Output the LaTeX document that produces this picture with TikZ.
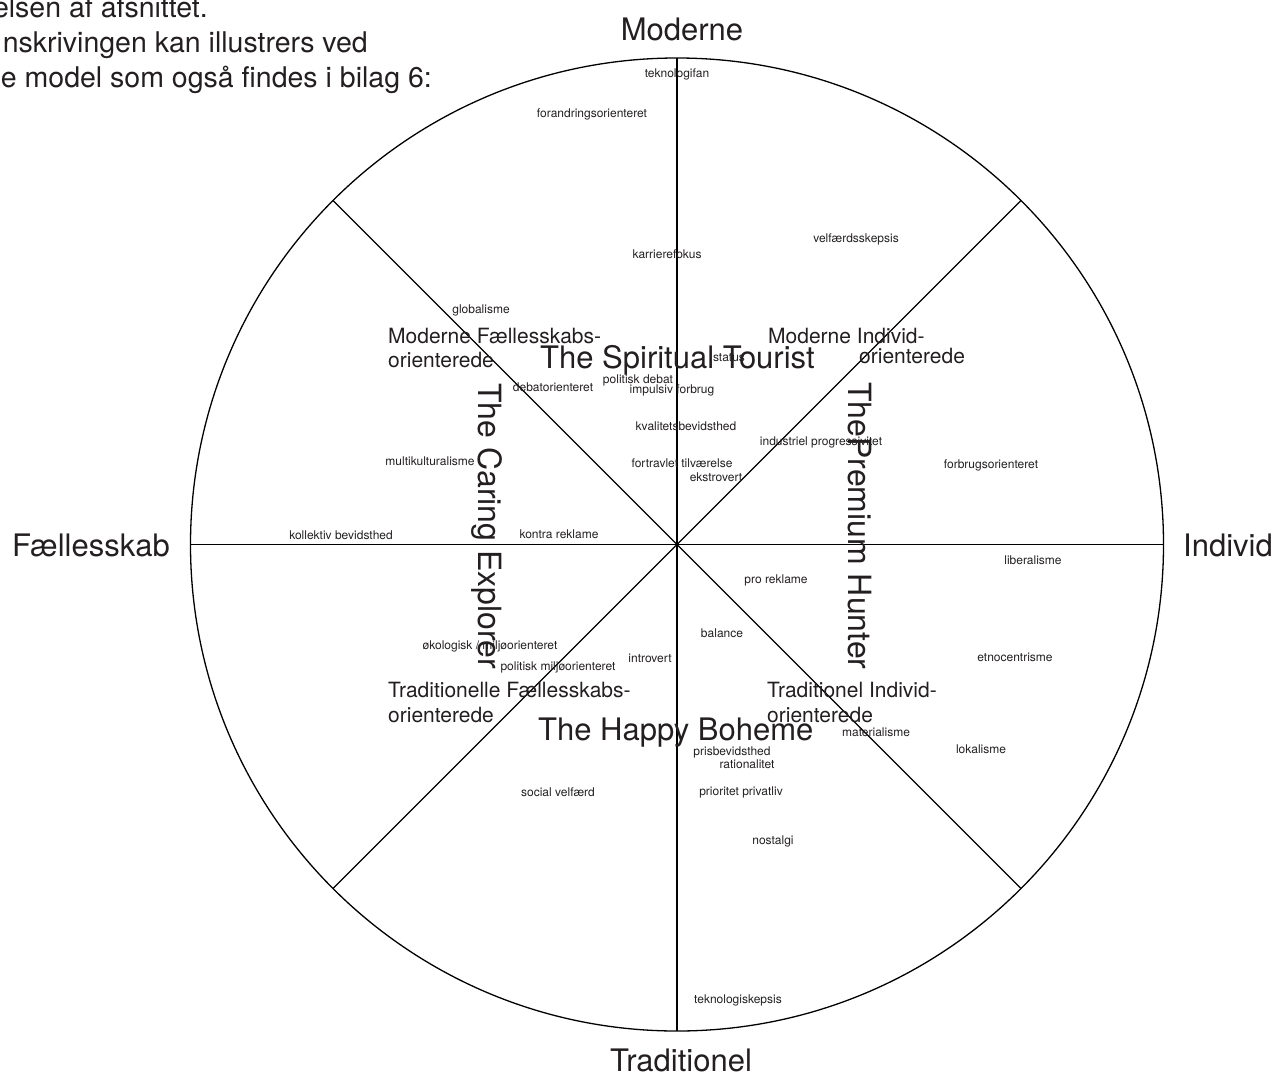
\documentclass[tikz,border=0pt]{standalone}
\usepackage{fontspec}
\setmainfont{TeX Gyre Heros}
\usepackage{tikz}
\usetikzlibrary{calc}
\usetikzlibrary{positioning}
\definecolor{InkGrey}{RGB}{35,31,32}
\newcommand{\wheelRadius}{486.5}
\tikzset{
	axislabel/.style={font=\fontsize{31}{36}\selectfont, text=InkGrey, inner sep=0pt},
	persona/.style={font=\fontsize{31}{36}\selectfont, text=InkGrey, inner sep=0pt, anchor=base west},
	segment/.style={font=\fontsize{21}{24}\selectfont, text=InkGrey, inner sep=0pt, anchor=base west},
	trait/.style={font=\fontsize{12}{14}\selectfont, text=InkGrey, inner sep=0pt},
	intro/.style={font=\fontsize{28.5}{34}\selectfont, text=InkGrey, inner sep=0pt, anchor=base east}
}
\begin{document}
\begin{tikzpicture}[x=1pt, y=-1pt]
	\useasboundingbox (0,0) rectangle (1276,1076);

		\coordinate (c) at (677,544.5);
		\draw [line width=1.3pt] (c) circle [radius=\wheelRadius];
		\foreach \a in {0,45,...,315}
			\coordinate (r\a) at ($(c)+(\a:\wheelRadius)$);

		\draw [line width=1.3pt] (r0) -- (r180);
		\draw [line width=1.3pt] (r90) -- (r270);
		\draw [line width=1.3pt] (r45) -- (r225);
		\draw [line width=1.3pt] (r135) -- (r315);

		% text cut from the page
		\node [intro] (intro1) at (208,17) {elsen af afsnittet.};
		\node [intro] (intro2) at (368,52) {nskrivingen kan illustrers ved};
		\node [intro] (intro3) at (432,87) {e model som også findes i bilag 6:};

		% axes
		\node [axislabel, anchor=base] (moderne) at (682,40) {Moderne};
		\node [axislabel, anchor=base west] (faelles) at (12,556) {Fællesskab};
		\node [axislabel, anchor=base west] (individ) at (1183,556) {Individ};
		\node [axislabel, anchor=base] (tradit) at (681,1071) {Traditionel};

		% segments
		\node [segment] (modFaelA) at (388,343) {Moderne Fællesskabs-};
		\node [segment] (modFaelB) at (388,367) {orienterede};
		\node [segment] (modIndA) at (768,343) {Moderne Individ-};
		\node [segment] (modIndB) at (859,363) {orienterede};
		\node [segment] (tradFaelA) at (388,697) {Traditionelle Fællesskabs-};
		\node [segment] (tradFaelB) at (388,722) {orienterede};
		\node [segment] (tradIndA) at (767,697) {Traditionel Individ-};
		\node [segment] (tradIndB) at (767,722) {orienterede};

		% personas
		\node [persona] (spiritual) at (540,368) {The Spiritual Tourist};
		\node [persona] (boheme) at (538,740) {The Happy Boheme};
		\node [persona, font=\fontsize{32}{36}\selectfont, rotate=-90] (caring) at (478,383) {The Caring Explorer};
		\node [persona, font=\fontsize{32}{36}\selectfont, rotate=-90] (premium) at (848,382) {ThePremium Hunter};

		% traits
		\node [trait] (teknofan) at (677,74) {teknologifan};
		\node [trait] (forandring) at (592,114) {forandringsorienteret};
		\node [trait] (karriere) at (667,254) {karrierefokus};
		\node [trait] (velfskep) at (856,239) {velfærdsskepsis};
		\node [trait] (global) at (481,310) {globalisme};
		\node [trait] (status) at (729,358) {status};
		\node [trait] (debatOr) at (553,387) {debatorienteret};
		\node [trait] (polDebat) at (638,380) {politisk debat};
		\node [trait] (impulsiv) at (672,390) {impulsiv forbrug};
		\node [trait] (kvalitet) at (686,426) {kvalitetsbevidsthed};
		\node [trait] (industri) at (821,442) {industriel progressivitet};
		\node [trait] (fortravl) at (682,463) {fortravlet tilværelse};
		\node [trait] (ekstro) at (716,477) {ekstrovert};
		\node [trait] (multikult) at (430,461) {multikulturalisme};
		\node [trait] (forbrug) at (991,465) {forbrugsorienteret};
		\node [trait] (kollektiv) at (341,535) {kollektiv bevidsthed};
		\node [trait] (kontra) at (559,534) {kontra reklame};
		\node [trait] (liberal) at (1033,560) {liberalisme};
		\node [trait] (proRek) at (776,580) {pro reklame};
		\node [trait] (balance) at (722,633) {balance};
		\node [trait] (etno) at (1015,657) {etnocentrisme};
		\node [trait] (okolog) at (490,646) {økologisk / miljøorienteret};
		\node [trait] (polMiljo) at (558,667) {politisk miljøorienteret};
		\node [trait] (intro) at (650,658) {introvert};
		\node [trait] (materiel) at (876,732) {materialisme};
		\node [trait] (lokal) at (981,749) {lokalisme};
		\node [trait] (pris) at (732,752) {prisbevidsthed};
		\node [trait] (ration) at (747,764) {rationalitet};
		\node [trait] (socVelf) at (558,792) {social velfærd};
		\node [trait] (privat) at (741,792) {prioritet privatliv};
		\node [trait] (nostalgi) at (773,841) {nostalgi};
		\node [trait] (teknoskep) at (738,1000) {teknologiskepsis};
	\end{tikzpicture}
\end{document}
